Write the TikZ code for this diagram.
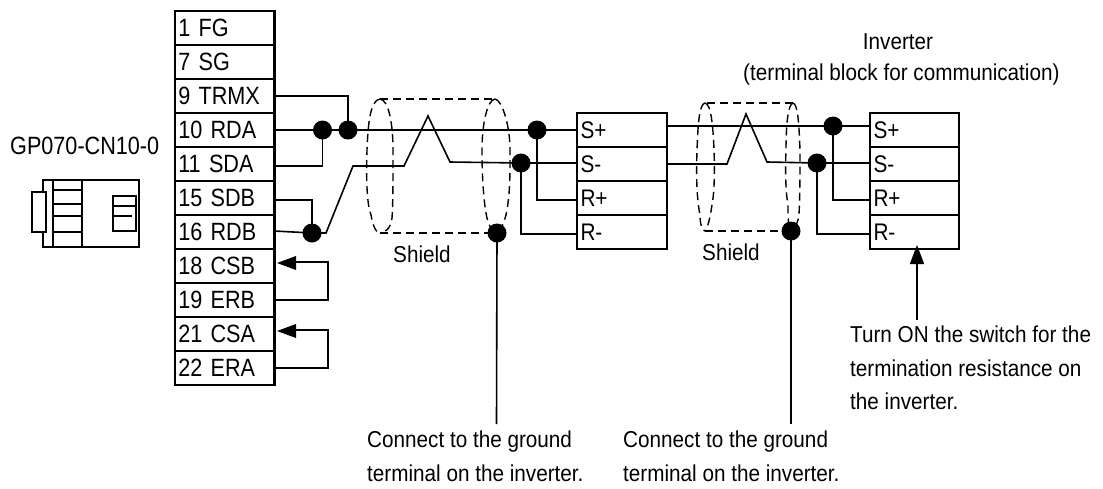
\documentclass[tikz,border=0pt]{standalone}
\usepackage{fontspec}
\setmainfont[FakeStretch=0.865]{Liberation Sans}
\newfontfamily\lblfont[FakeStretch=0.9]{Liberation Sans}
\usetikzlibrary{positioning,calc,arrows.meta}
\tikzset{
  cellbig/.style={draw=black,line width=2.7pt,anchor=north west,minimum width=99.5pt,minimum height=34pt,inner sep=0pt,outer sep=0pt,text width=93pt,align=left,font=\fontsize{25}{27}\selectfont},
  cellmid/.style={draw=black,line width=2.3pt,anchor=north west,minimum width=90pt,minimum height=34pt,inner sep=0pt,outer sep=0pt,text width=83pt,align=left,font=\fontsize{24}{27}\selectfont},
  cellend/.style={cellmid,minimum width=89pt,text width=82pt},
  wire/.style={draw=black,line width=1.6pt,line join=miter},
  jdot/.style={circle,fill=black,draw=none,minimum size=19pt,inner sep=0pt,outer sep=0pt},
  shieldline/.style={draw=black,line width=1.4pt,dash pattern=on 8pt off 5pt},
  pointer/.style={wire,-{Triangle[length=19pt,width=14pt]},shorten >=0pt},
  lbl/.style={anchor=west,inner sep=0pt,align=left,font=\lblfont\fontsize{23}{33.5}\selectfont},
  icon/.style={draw=black,line width=1.6pt,fill=none}
}
\begin{document}
\begin{tikzpicture}[x=1pt,y=-1pt]
\useasboundingbox (0,0) rectangle (1103,488);
\fill[white] (0,0) rectangle (1103,488);
% left table
\foreach \nm/\txt/\yy in {a/1 FG/11,b/7 SG/45,c/9 TRMX/79,d/10 RDA/113,e/11 SDA/147,f/15 SDB/181,g/16 RDB/215,h/18 CSB/249,i/19 ERB/283,j/21 CSA/317,k/22 ERA/351}
  \node[cellbig] (\nm) at (175,\yy) {\txt};
% middle table
\foreach \nm/\txt/\yy in {ms/S+/113,mt/S-/147,mr/R+/181,mq/R-/215}
  \node[cellmid] (\nm) at (577,\yy) {\txt};
% end table
\foreach \nm/\txt/\yy in {es/S+/113,et/S-/147,er/R+/181,eq/R-/215}
  \node[cellend] (\nm) at (870,\yy) {\txt};
% dots
\node[jdot] (d1) at (322.5,130) {};
\node[jdot] (d2) at (348,130) {};
\node[jdot] (d3) at (312,233) {};
\node[jdot] (d4) at (537,130) {};
\node[jdot] (d5) at (521,163) {};
\node[jdot] (d6) at (497,233) {};
\node[jdot] (d7) at (833,126) {};
\node[jdot] (d8) at (817,163) {};
\node[jdot] (d9) at (791,231) {};
% wires, left cable
\draw[wire] (c.east) -| (d2.center);
\draw[wire] (d.east) -- (d4.center) -- (ms.west);
\draw[wire] ([yshift=-2pt]e.east) -| (d1.center);
\draw[wire] ([yshift=-2pt]f.east) -| (d3.center);
\draw[wire] ([yshift=1pt]g.east) -- (d3.center) -- (326,233) -- (353,166) -- (404,166) -- (428,116) -- (450,162) -- (d5.center) -- (d5 -| mt.west);
\draw[wire] (d4.center) |- ([yshift=-2pt]mr.west);
\draw[wire] (d5.center) |- ([yshift=-2pt]mq.west);
% wires, right cable
\draw[wire] (ms.east |- d7) -- (d7.center) -- (d7 -| es.west);
\draw[wire] (667,164) -- (727,164) -- (746,114) -- (767,162) -- (d8.center) -- (d8 -| et.west);
\draw[wire] (d7.center) |- ([yshift=-2pt]er.west);
\draw[wire] (d8.center) |- ([yshift=-2pt]eq.west);
% ground leads
\coordinate (g1) at (496.5,424);
\coordinate (g2) at (791,424);
\draw[wire] (d6.center) -- (g1);
\draw[wire] (d9.center) -- (g2);
% loopbacks
\coordinate (l1) at (328,262);
\coordinate (l2) at (328,330);
\draw[wire] (i.east) -| (l1) -- (296,262);
\draw[wire] (k.east) -| (l2) -- (296,330);
\fill (277,263) -- (296,256) -- (296,270) -- cycle;
\fill (277,331) -- (296,324) -- (296,338) -- cycle;
% termination pointer
\coordinate (t0) at (917,320);
\coordinate (t1) at (917,245);
\draw[pointer] (t0) -- (t1);
% shield 1
\draw[shieldline] (380,99) -- (495,99);
\draw[shieldline] (380,233) -- (d6.center);
\draw[shieldline] (380,99) .. controls (370,100) and (368,125) .. (367,150) .. controls (366,180) and (367,205) .. (371,215) .. controls (373,226) and (376,233) .. (380,233);
\draw[shieldline] (380,99) .. controls (389,100) and (393,125) .. (393,150) .. controls (393,180) and (393,205) .. (392,218) .. controls (391,228) and (385,233) .. (380,233);
\draw[shieldline] (495,99) .. controls (487,100) and (482,125) .. (482,150) .. controls (482,180) and (484,205) .. (487,218) .. controls (489,226) and (491,230) .. (d6.center);
\draw[shieldline] (495,99) .. controls (502,100) and (510,125) .. (510,150) .. controls (510,180) and (510,195) .. (506,215) .. controls (504,222) and (502,228) .. (d6.center);
% shield 2
\draw[shieldline] (707,103) -- (793,103);
\draw[shieldline] (705,231) -- (d9.center);
\draw[shieldline] (705,103) .. controls (699,104) and (698,125) .. (697,150) .. controls (696,180) and (697,200) .. (700,215) .. controls (700,224) and (702,231) .. (705,231);
\draw[shieldline] (705,103) .. controls (711,104) and (713,125) .. (714,150) .. controls (715,175) and (714,195) .. (712,205) .. controls (710,218) and (708,227) .. (705,231);
\draw[shieldline] (793,103) .. controls (788,104) and (786,125) .. (786,150) .. controls (785,175) and (786,195) .. (788,205) .. controls (788,218) and (788,225) .. (d9.center);
\draw[shieldline] (793,103) .. controls (798,104) and (799,125) .. (800,150) .. controls (800,175) and (800,195) .. (799,215) .. controls (798,222) and (796,227) .. (d9.center);
% connector icon
\draw[icon] (43,180) rectangle (139,247);
\draw[icon,fill=white] (32,192) rectangle (46,232);
\draw[icon] (53,180) -- (53,247) (82,180) -- (82,247);
\draw[icon] (53,190) -- (81,190) (53,204) -- (81,204) (53,216) -- (81,216) (53,232) -- (81,232);
\draw[icon] (113,196) rectangle (136,231);
\draw[icon] (113,206) -- (135,206) (113,216) -- (132,216);
% labels
\node[lbl,font=\fontsize{25}{27}\selectfont] (conn) at (10,146) {GP070-CN10-0};
\node[lbl,anchor=center] (inv) at (898,42) {Inverter};
\node[lbl] (tb) at (743,75) {(terminal block for communication)};
\node[lbl] (sh1) at (393,254) {Shield};
\node[lbl] (sh2) at (702,252) {Shield};
\node[lbl,anchor=north west] (gt1) at (367,431) {Connect to the ground\\terminal on the inverter.};
\node[lbl,anchor=north west] (gt2) at (623,431) {Connect to the ground\\terminal on the inverter.};
\node[lbl,anchor=north west] (sw) at (850,326) {Turn ON the switch for the\\termination resistance on\\the inverter.};
\end{tikzpicture}
\end{document}
